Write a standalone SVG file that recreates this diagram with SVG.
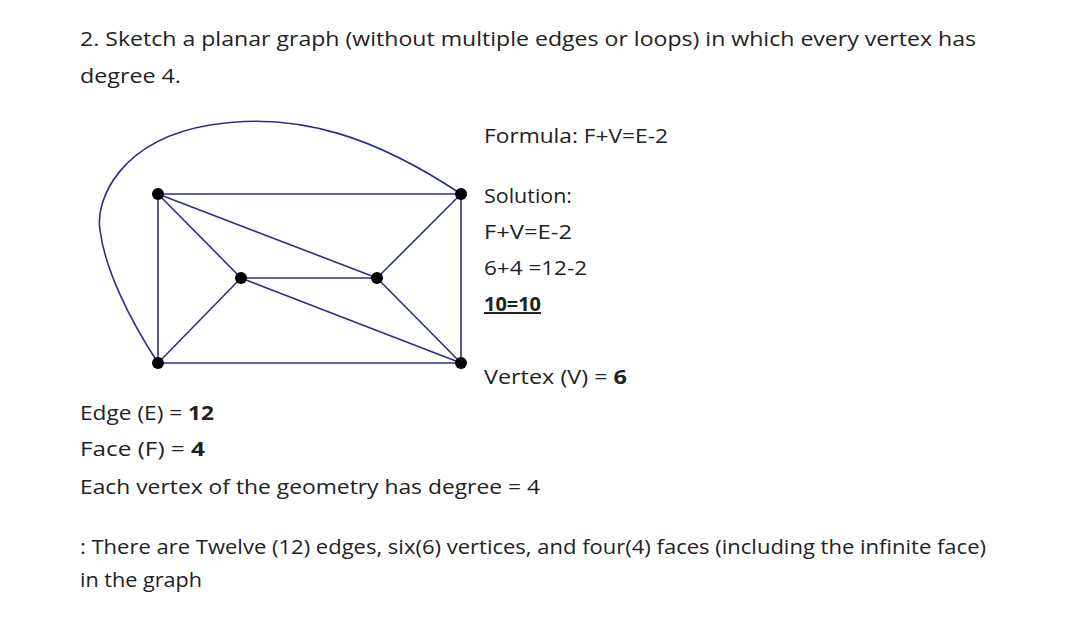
<svg xmlns="http://www.w3.org/2000/svg" width="1080" height="641" viewBox="0 0 1080 641">
<style>
text{font-family:"Open Sans","Liberation Sans",sans-serif;font-size:20px;fill:#222}
.e{stroke:#2b2f8a;stroke-width:1.6;fill:none}
.v{fill:#000}
.b{font-weight:bold}
</style>
<rect width="1080" height="641" fill="#fff"/>
<text x="80" y="46" textLength="896" lengthAdjust="spacingAndGlyphs">2.  Sketch a planar graph (without multiple edges or loops) in which every vertex has</text>
<text x="80" y="83" textLength="101" lengthAdjust="spacingAndGlyphs">degree 4.</text>
<g id="connectors">
<path class="e" d="M461,194 C380,140 300,110 210,125 C120,140 95,200 100,230 C105,270 130,320 158,363"/>
<line class="e" x1="158" y1="194" x2="461" y2="194"/>
<line class="e" x1="158" y1="363" x2="461" y2="363"/>
<line class="e" x1="158" y1="194" x2="158" y2="363"/>
<line class="e" x1="461" y1="194" x2="461" y2="363"/>
<line class="e" x1="158" y1="194" x2="241" y2="278"/>
<line class="e" x1="158" y1="194" x2="377" y2="278"/>
<line class="e" x1="461" y1="194" x2="377" y2="278"/>
<line class="e" x1="158" y1="363" x2="241" y2="278"/>
<line class="e" x1="461" y1="363" x2="241" y2="278"/>
<line class="e" x1="461" y1="363" x2="377" y2="278"/>
<line class="e" x1="241" y1="278" x2="377" y2="278"/>
</g>
<g id="v1"><circle class="v" cx="158" cy="194" r="6"/></g>
<g id="v2"><circle class="v" cx="461" cy="194" r="6"/></g>
<g id="v3"><circle class="v" cx="241" cy="278" r="6"/></g>
<g id="v4"><circle class="v" cx="377" cy="278" r="6"/></g>
<g id="v5"><circle class="v" cx="158" cy="363" r="6"/></g>
<g id="v6"><circle class="v" cx="461" cy="363" r="6"/></g>
<text x="484" y="143" textLength="184" lengthAdjust="spacingAndGlyphs">Formula: F+V=E-2</text>
<text x="484" y="203" textLength="88" lengthAdjust="spacingAndGlyphs">Solution:</text>
<text x="484" y="239" textLength="88" lengthAdjust="spacingAndGlyphs">F+V=E-2</text>
<text x="484" y="275" textLength="103" lengthAdjust="spacingAndGlyphs">6+4 =12-2</text>
<text x="484" y="311" class="b" text-decoration="underline" textLength="57" lengthAdjust="spacingAndGlyphs">10=10</text>
<text x="484" y="384" textLength="143" lengthAdjust="spacingAndGlyphs">Vertex (V) = <tspan class="b">6</tspan></text>
<text x="80" y="420" textLength="134" lengthAdjust="spacingAndGlyphs">Edge (E) = <tspan class="b">12</tspan></text>
<text x="80" y="456" textLength="125" lengthAdjust="spacingAndGlyphs">Face (F) = <tspan class="b">4</tspan></text>
<text x="80" y="494" textLength="460" lengthAdjust="spacingAndGlyphs">Each vertex of the geometry has degree = 4</text>
<text x="80" y="554" textLength="906" lengthAdjust="spacingAndGlyphs">: There are Twelve (12) edges,  six(6) vertices, and four(4) faces (including the infinite face)</text>
<text x="80" y="587" textLength="122" lengthAdjust="spacingAndGlyphs">in the graph</text>
</svg>
